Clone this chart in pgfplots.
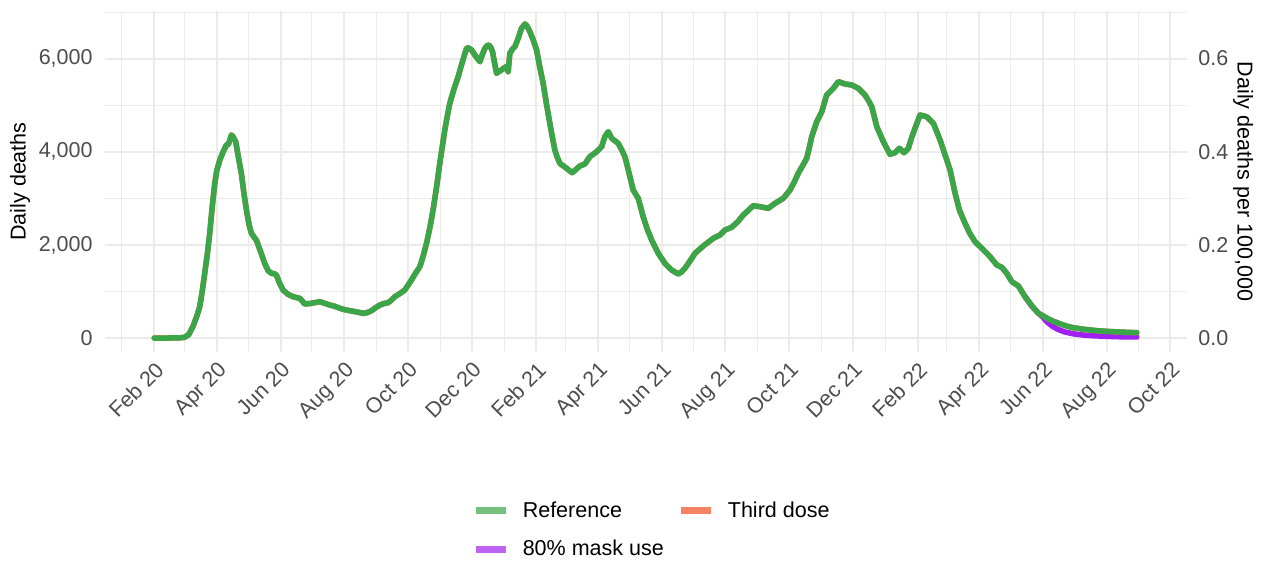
\documentclass[border=0pt]{standalone}
\usepackage{pgfplots}
\usepackage{pgfplotstable}
\pgfplotsset{compat=1.18}
\usepackage{fontspec}
\setmainfont{Liberation Sans}
\definecolor{refgreen}{RGB}{57,167,73}
\definecolor{maskpurple}{RGB}{160,32,240}
\definecolor{doseorange}{RGB}{240,95,60}
\definecolor{keygreen}{RGB}{117,193,125}
\definecolor{keyorange}{RGB}{245,130,100}
\definecolor{keypurple}{RGB}{190,99,244}
\definecolor{gridgray}{RGB}{235,235,235}
\definecolor{ticktext}{RGB}{77,77,77}

\pgfplotstableread{
day deaths
31 0
45 0
55 3
60 15
64 70
68 240
72 480
74.6 672
77 1000
79.4 1390
82 1820
84.2 2250
86.5 2800
89 3320
91 3600
93.8 3820
97 4000
100.2 4145
102 4160
103.5 4250
105 4360
106.5 4320
109.1 4215
111.5 3900
114.5 3535
117 3100
119.3 2750
122 2420
124.1 2250
126.5 2170
128.9 2100
133 1850
136.9 1600
140 1450
143.3 1390
146 1380
148.1 1350
151 1180
154.4 1030
159 940
164 887
167 870
170.4 852
173 790
175.2 730
180 740
185 760
189.6 780
195 740
199.2 708
204 680
208.7 640
213 610
218.4 586
225 560
231.1 530
235 545
239.1 586
243 650
247.1 708
251 740
255 758
258 810
261.4 887
266 950
271 1030
274 1130
277.4 1245
281 1380
285.4 1531
288.5 1750
291.8 2033
295 2370
298.1 2750
301.5 3250
304.5 3750
307 4120
309.3 4466
312 4800
314.1 5040
318 5340
322.1 5610
326 5920
330.1 6220
332 6230
334.9 6184
338 6080
342.9 5933
345.5 6100
347.7 6220
350 6280
351.8 6290
353.5 6230
355 6148
357 5900
358.9 5684
361 5720
363.7 5755
366 5800
368.4 5826
370 5718
371.6 6113
374 6200
376.4 6255
379.6 6435
382.8 6650
386 6743
388 6700
390.8 6577
394 6400
397.2 6184
400 5850
403.5 5469
406.5 5050
409.9 4610
412 4350
414.7 4037
417 3880
419.5 3750
425.9 3644
431.3 3550
435 3620
438.6 3693
443.4 3736
448.2 3893
454.7 4000
459.5 4108
462.6 4323
465.8 4430
469.1 4288
475.4 4180
478.5 4050
481.8 3893
484 3700
486.6 3463
489.7 3178
494.5 3000
499.3 2605
503 2350
507.4 2104
513.7 1819
520.1 1604
526.5 1460
532.9 1374
536 1420
539.3 1497
544 1650
548.9 1819
556.8 1975
566.4 2141
572.8 2212
577.6 2319
584 2377
590 2500
595.1 2641
600 2740
604.7 2841
611.1 2820
619.1 2785
625.5 2892
633.5 3000
639.9 3178
644 3350
647.8 3537
652 3700
655.9 3859
658 4050
660.7 4323
665.5 4645
670.3 4860
675 5218
681.4 5361
686.2 5504
692.6 5454
699 5433
705.3 5361
711.7 5218
715 5100
718.2 4967
723 4537
729.3 4215
735.7 3944
740.5 3980
744.6 4073
749.1 3980
753.2 4073
756 4280
759.6 4502
764.4 4788
770.8 4752
777.2 4610
783.6 4252
788.4 3930
793.2 3607
798 3107
802.1 2750
807.5 2463
812 2250
817.1 2068
825.1 1890
831.5 1746
837.9 1568
842.7 1518
847.5 1389
852.3 1209
858.6 1117
865 887
871.5 687
877.8 530
882 480
886 423
892 360
899 300
905 255
911 221
920 192
927 172
935 155
943 143
958 126
972 114
}\refdata

\pgfplotstableread{
day deaths
865 887
871.5 687
877.8 530
882 450
886 345
891 255
896 190
903 130
911 90
920 65
930 48
943 35
958 25
972 22
}\maskdata

\begin{document}
\begin{tikzpicture}[x=1bp,y=1bp]
\useasboundingbox (0,0) rectangle (633,281);
\begin{axis}[
  at={(52.5bp,105bp)}, anchor=south west,
  width=541bp, height=170.5bp, scale only axis,
  xmin=-16.1, xmax=1020.1, ymin=-300.6, ymax=7022,
  axis line style={draw=none},
  major tick length=0pt, minor tick length=0pt,
  xtick={31,91,152,213,274,335,397,456,517,578,639,700,762,821,882,943,1004},
  xticklabels={Feb 20,Apr 20,Jun 20,Aug 20,Oct 20,Dec 20,Feb 21,Apr 21,Jun 21,Aug 21,Oct 21,Dec 21,Feb 22,Apr 22,Jun 22,Aug 22,Oct 22},
  minor xtick={0,60,121,182,244,305,366,425,486,547,609,670,731,790,851,912,974},
  ytick={0,2000,4000,6000},
  yticklabels={0,{2,000},{4,000},{6,000}},
  minor ytick={1000,3000,5000,7000},
  grid=both,
  major grid style={gridgray, line width=1bp},
  minor grid style={gridgray, line width=0.5bp},
  tick label style={font=\fontsize{10.8}{13}\selectfont, text=ticktext},
  xticklabel style={rotate=45, anchor=north east, inner sep=0pt},
  xticklabel shift=4bp,
  yticklabel style={anchor=east, inner sep=0pt, xshift=-6bp},
  ylabel={Daily deaths},
  ylabel style={at={(axis description cs:-0.0786,0.5)}, anchor=center, font=\fontsize{10.8}{13}\selectfont},
  legend columns=2,
  legend cell align=left,
  legend image code/.code={\draw[#1, line width=3.5bp, line cap=butt] (0bp,0bp) -- (15bp,0bp);},
  legend style={draw=none, fill=none, at={(axis description cs:0.334,-0.414)}, anchor=north west,
    font=\fontsize{10.8}{13}\selectfont, row sep=6bp,
    /tikz/every odd column/.append style={column sep=4.5bp},
    /tikz/every even column/.append style={column sep=5bp}},
]
\addlegendimage{keygreen}
\addlegendentry{Reference}
\addlegendimage{keyorange}
\addlegendentry{Third dose}
\addlegendimage{keypurple}
\addlegendentry{80\% mask use}
\addplot[forget plot, maskpurple, line width=2.75bp, line join=round, line cap=round] table[x=day, y=deaths] {\maskdata};
\addplot[forget plot, doseorange, line width=2.75bp, line join=round, line cap=round] table[x=day, y=deaths] {\refdata};
\addplot[forget plot, refgreen, line width=2.75bp, line join=round, line cap=round] table[x=day, y=deaths] {\refdata};
\end{axis}
\begin{axis}[
  at={(52.5bp,105bp)}, anchor=south west,
  width=541bp, height=170.5bp, scale only axis,
  xmin=-16.1, xmax=1020.1, ymin=-0.03006, ymax=0.7022,
  axis y line*=right, axis x line=none,
  xtick=\empty,
  axis line style={draw=none},
  major tick length=0pt, minor tick length=0pt,
  ytick={0,0.2,0.4,0.6},
  yticklabels={0.0,0.2,0.4,0.6},
  yticklabel style={anchor=west, inner sep=0pt, xshift=5.5bp, font=\fontsize{10.8}{13}\selectfont, text=ticktext},
  ylabel={Daily deaths per 100,000},
  ylabel style={at={(axis description cs:1.0518,0.5)}, anchor=center, rotate=180, font=\fontsize{10.8}{13}\selectfont},
]
\addplot[draw=none, forget plot] coordinates {(31,0)};
\end{axis}
\end{tikzpicture}
\end{document}
